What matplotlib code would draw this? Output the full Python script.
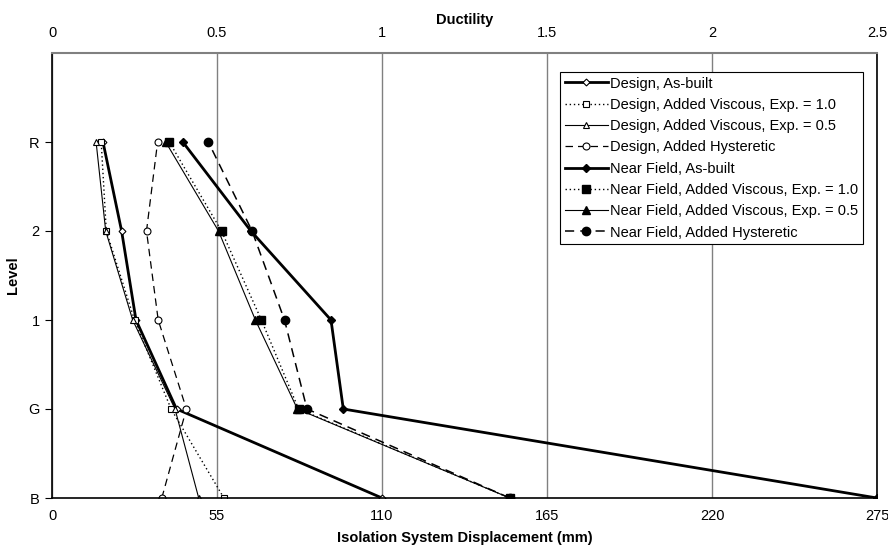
import matplotlib
matplotlib.use('Agg')
from matplotlib import pyplot as plt

plt.rcParams['font.family'] = ['Liberation Sans', 'DejaVu Sans']
plt.rcParams['font.size'] = 10.5

levels = ['B', 'G', '1', '2', 'R']
level_pos = [0, 1, 2, 3, 4]

# isolation system displacement (mm) at each level, B -> R
design_asbuilt = [110.0, 41.5, 28.0, 23.2, 17.0]
design_visc10 = [57.3, 39.7, 27.5, 18.1, 16.4]
design_visc05 = [48.9, 41.0, 26.9, 17.9, 14.7]
design_hyst = [36.6, 44.8, 35.4, 31.5, 35.2]
nf_asbuilt = [275.0, 97.1, 93.0, 66.3, 43.6]
nf_visc10 = [152.6, 82.2, 69.8, 56.5, 39.1]
nf_visc05 = [152.6, 81.8, 67.8, 55.5, 37.9]
nf_hyst = [152.6, 85.0, 77.5, 66.7, 52.1]

dotted = (0, (1, 2))
dashed = (0, (6, 4))

fig = plt.figure(figsize=(8.88, 5.46), dpi=100)
ax = fig.add_axes([52/888, 1-498/546, 825/888, 445/546])

ax.plot(design_asbuilt, level_pos, color='k', lw=2.0, marker='D', ms=3.5,
        mfc='white', mec='k', mew=0.8, label='Design, As-built')
ax.plot(design_visc10, level_pos, color='k', lw=1.0, ls=dotted, marker='s', ms=5,
        mfc='white', mec='k', mew=0.8, label='Design, Added Viscous, Exp. = 1.0')
ax.plot(design_visc05, level_pos, color='k', lw=0.8, marker='^', ms=5,
        mfc='white', mec='k', mew=0.8, label='Design, Added Viscous, Exp. = 0.5')
ax.plot(design_hyst, level_pos, color='k', lw=0.9, ls=dashed, marker='o', ms=5,
        mfc='white', mec='k', mew=0.8, label='Design, Added Hysteretic')
ax.plot(nf_asbuilt, level_pos, color='k', lw=2.0, marker='D', ms=4,
        mfc='k', mec='k', label='Near Field, As-built')
ax.plot(nf_visc10, level_pos, color='k', lw=1.0, ls=dotted, marker='s', ms=6,
        mfc='k', mec='k', label='Near Field, Added Viscous, Exp. = 1.0')
ax.plot(nf_visc05, level_pos, color='k', lw=0.8, marker='^', ms=6,
        mfc='k', mec='k', label='Near Field, Added Viscous, Exp. = 0.5')
ax.plot(nf_hyst, level_pos, color='k', lw=1.1, ls=dashed, marker='o', ms=6,
        mfc='k', mec='k', label='Near Field, Added Hysteretic')

ax.set_xlim(0, 275)
ax.set_ylim(0, 5)
ax.set_xticks([0, 55, 110, 165, 220, 275])
ax.set_yticks(level_pos)
ax.set_yticklabels(levels)
ax.tick_params(axis='x', length=0, pad=8)
ax.tick_params(axis='y', length=5, direction='out', pad=4)
ax.grid(axis='x', color='#808080', lw=1.0)
ax.set_axisbelow(True)

for s in ['left', 'bottom', 'right']:
    ax.spines[s].set_color('k')
    ax.spines[s].set_linewidth(1.2)
ax.spines['top'].set_color('#808080')
ax.spines['top'].set_linewidth(1.5)

ax.set_xlabel('Isolation System Displacement (mm)', fontweight='bold', labelpad=6)
ax.set_ylabel('Level', fontweight='bold', labelpad=6)

top = ax.secondary_xaxis('top', functions=(lambda x: x / 110, lambda d: d * 110))
top.set_xticks([0, 0.5, 1, 1.5, 2, 2.5])
top.set_xticklabels(['0', '0.5', '1', '1.5', '2', '2.5'])
top.tick_params(length=0, pad=9)
top.spines['top'].set_visible(False)
top.set_xlabel('Ductility', fontweight='bold', labelpad=2)

leg = ax.legend(loc='upper right', bbox_to_anchor=(0.983, 0.957), borderaxespad=0,
                fancybox=False, framealpha=1, edgecolor='k', handlelength=3.0,
                handletextpad=0.15, labelspacing=0.5, borderpad=0.3)
leg.get_frame().set_linewidth(0.8)

plt.savefig('out.png', dpi=100)
